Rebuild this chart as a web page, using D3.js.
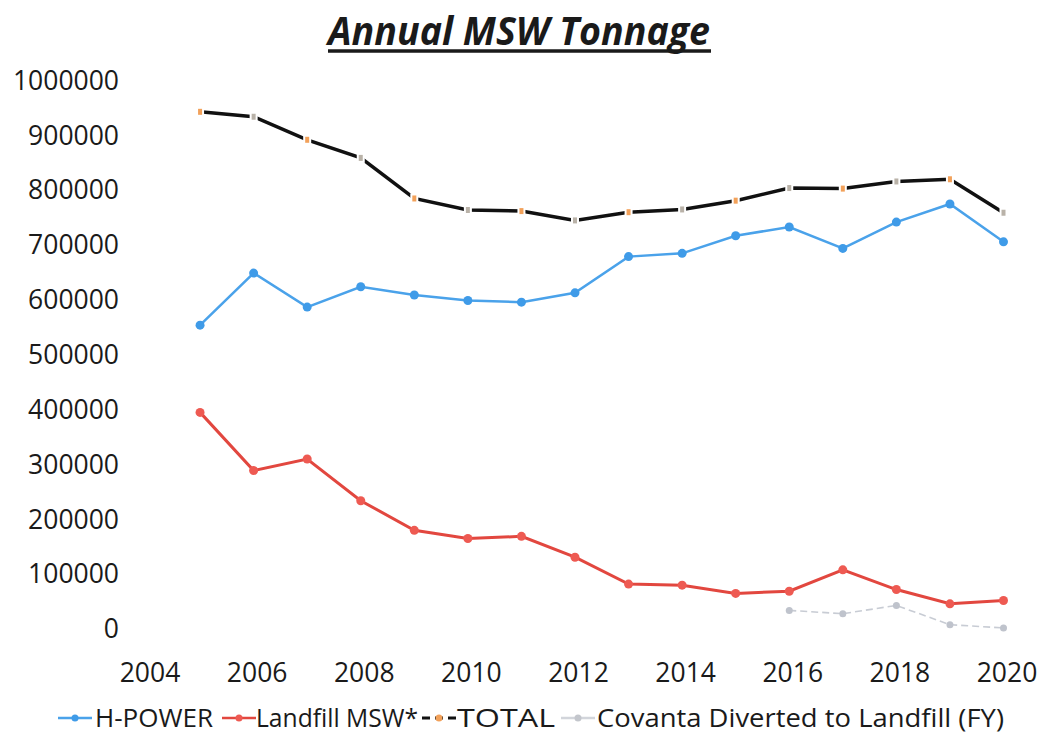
<!DOCTYPE html>
<html>
<head>
<meta charset="utf-8">
<script src="https://cdn.jsdelivr.net/npm/d3@7"></script>
<style>
  body { margin: 0; background: #fff; }
  text { font-family: "Open Sans", sans-serif; fill: #1a1a1a; }
</style>
</head>
<body>
<div id="chart"></div>
<script>
// data
var years = [2005, 2006, 2007, 2008, 2009, 2010, 2011, 2012, 2013, 2014, 2015, 2016, 2017, 2018, 2019, 2020];
var hpower = [553000, 648000, 586000, 623000, 608000, 598000, 595000, 612000, 678000, 684000, 716000, 732000, 693000, 741000, 774000, 705000];
var landfill = [394000, 288000, 309000, 233000, 179000, 164000, 168000, 130000, 81000, 79000, 64000, 68000, 107000, 71000, 45000, 51000];
var total = [942000, 933000, 891000, 858000, 784000, 763000, 761000, 744000, 759000, 764000, 780000, 803000, 802000, 815000, 819000, 758000];
var covantaYears = [2016, 2017, 2018, 2019, 2020];
var covanta = [33000, 27000, 42000, 7000, 1000];
var yTicks = [0, 100000, 200000, 300000, 400000, 500000, 600000, 700000, 800000, 900000, 1000000];
var xTicks = [2004, 2006, 2008, 2010, 2012, 2014, 2016, 2018, 2020];
var legendLabels = ["H-POWER", "Landfill MSW*", "TOTAL", "Covanta Diverted to Landfill (FY)"];

var svgWidth = 1040;
var svgHeight = 737;

var svg = d3.select("#chart")
  .append("svg")
  .attr("width", svgWidth)
  .attr("height", svgHeight);

var xScale = d3.scaleLinear()
  .domain([2004, 2020])
  .range([146.5, 1003.5]);

var yScale = d3.scaleLinear()
  .domain([0, 1000000])
  .range([628.5, 80]);

// title
svg.append("text")
  .attr("x", 328)
  .attr("y", 45)
  .attr("textLength", 382)
  .attr("lengthAdjust", "spacingAndGlyphs")
  .style("font-size", "40px")
  .style("font-weight", "bold")
  .style("font-style", "italic")
  .text("Annual MSW Tonnage");

svg.append("line")
  .attr("x1", 328).attr("x2", 711)
  .attr("y1", 51).attr("y2", 51)
  .attr("stroke", "#1a1a1a")
  .attr("stroke-width", 3.5);

// axes (labels only, no lines)
var yAxis = svg.append("g")
  .attr("transform", "translate(119,0)")
  .call(d3.axisLeft(yScale).tickValues(yTicks).tickFormat(d3.format("d")).tickSize(0).tickPadding(0));

var xAxis = svg.append("g")
  .attr("transform", "translate(3,662)")
  .call(d3.axisBottom(xScale).tickValues(xTicks).tickFormat(d3.format("d")).tickSize(0).tickPadding(0));

svg.selectAll(".domain").remove();
svg.selectAll(".tick text")
  .style("font-family", "Open Sans, sans-serif")
  .style("font-size", "26.5px")
  .attr("fill", "#1a1a1a");
yAxis.selectAll(".tick text").attr("dy", "0.35em");
xAxis.selectAll(".tick text").attr("dy", "0.74em");

var line = d3.line()
  .x(d => xScale(d[0]))
  .y(d => yScale(d[1]));

function pairs(xs, vs) {
  return xs.map((x, i) => [x, vs[i]]);
}

// covanta diverted (faint dashed)
svg.append("path")
  .datum(pairs(covantaYears, covanta))
  .attr("d", line)
  .attr("fill", "none")
  .attr("stroke", "#c8ccd4")
  .attr("stroke-width", 1.6)
  .attr("stroke-dasharray", "7,4");
svg.selectAll(".cov")
  .data(pairs(covantaYears, covanta))
  .enter()
  .append("circle")
  .attr("cx", d => xScale(d[0]))
  .attr("cy", d => yScale(d[1]))
  .attr("r", 3.5)
  .attr("fill", "#bfc3cc");

// landfill
svg.append("path")
  .datum(pairs(years, landfill))
  .attr("d", line)
  .attr("fill", "none")
  .attr("stroke", "#e2473f")
  .attr("stroke-width", 3);
svg.selectAll(".lf")
  .data(pairs(years, landfill))
  .enter()
  .append("circle")
  .attr("cx", d => xScale(d[0]))
  .attr("cy", d => yScale(d[1]))
  .attr("r", 4.5)
  .attr("fill", "#ee5a52");

// h-power
svg.append("path")
  .datum(pairs(years, hpower))
  .attr("d", line)
  .attr("fill", "none")
  .attr("stroke", "#4aa2ea")
  .attr("stroke-width", 2.5);
svg.selectAll(".hp")
  .data(pairs(years, hpower))
  .enter()
  .append("circle")
  .attr("cx", d => xScale(d[0]))
  .attr("cy", d => yScale(d[1]))
  .attr("r", 4.5)
  .attr("fill", "#3f9be8");

// total
svg.append("path")
  .datum(pairs(years, total))
  .attr("d", line)
  .attr("fill", "none")
  .attr("stroke", "#111")
  .attr("stroke-width", 3.5);
var markerColors = ["#f2a15a", "#b9b2a8"];
svg.selectAll(".tot")
  .data(pairs(years, total))
  .enter()
  .append("rect")
  .attr("x", d => xScale(d[0]) - 3)
  .attr("y", d => yScale(d[1]) - 4)
  .attr("width", 6)
  .attr("height", 8)
  .attr("fill", (d, i) => markerColors[i % 2])
  .attr("stroke", "#fff")
  .attr("stroke-width", 2);

// legend
var legendItems = [
  { x: 58, tx: 95, w: 118, color: "#4aa2ea", marker: "#3f9be8", dash: null },
  { x: 222, tx: 256, w: 162, color: "#e2473f", marker: "#ee5a52", dash: null },
  { x: 422, tx: 457, w: 98, color: "#111", marker: "#f2a15a", dash: "8,5" },
  { x: 561, tx: 597, w: 407, color: "#d2d5db", marker: "#c3c6cc", dash: null }
];
var legendY = 718;
var lg = svg.append("g");
legendItems.forEach(function(item, i) {
  lg.append("line")
    .attr("x1", item.x).attr("x2", item.x + 34)
    .attr("y1", legendY).attr("y2", legendY)
    .attr("stroke", item.color)
    .attr("stroke-width", i == 2 ? 3 : 2.5)
    .attr("stroke-dasharray", item.dash);
  lg.append("circle")
    .attr("cx", item.x + 17)
    .attr("cy", legendY)
    .attr("r", 3.5)
    .attr("fill", item.marker);
  lg.append("text")
    .attr("x", item.tx)
    .attr("y", legendY)
    .attr("dy", "0.35em")
    .attr("textLength", item.w)
    .attr("lengthAdjust", "spacingAndGlyphs")
    .style("font-size", "25px")
    .text(legendLabels[i]);
});
</script>
</body>
</html>
